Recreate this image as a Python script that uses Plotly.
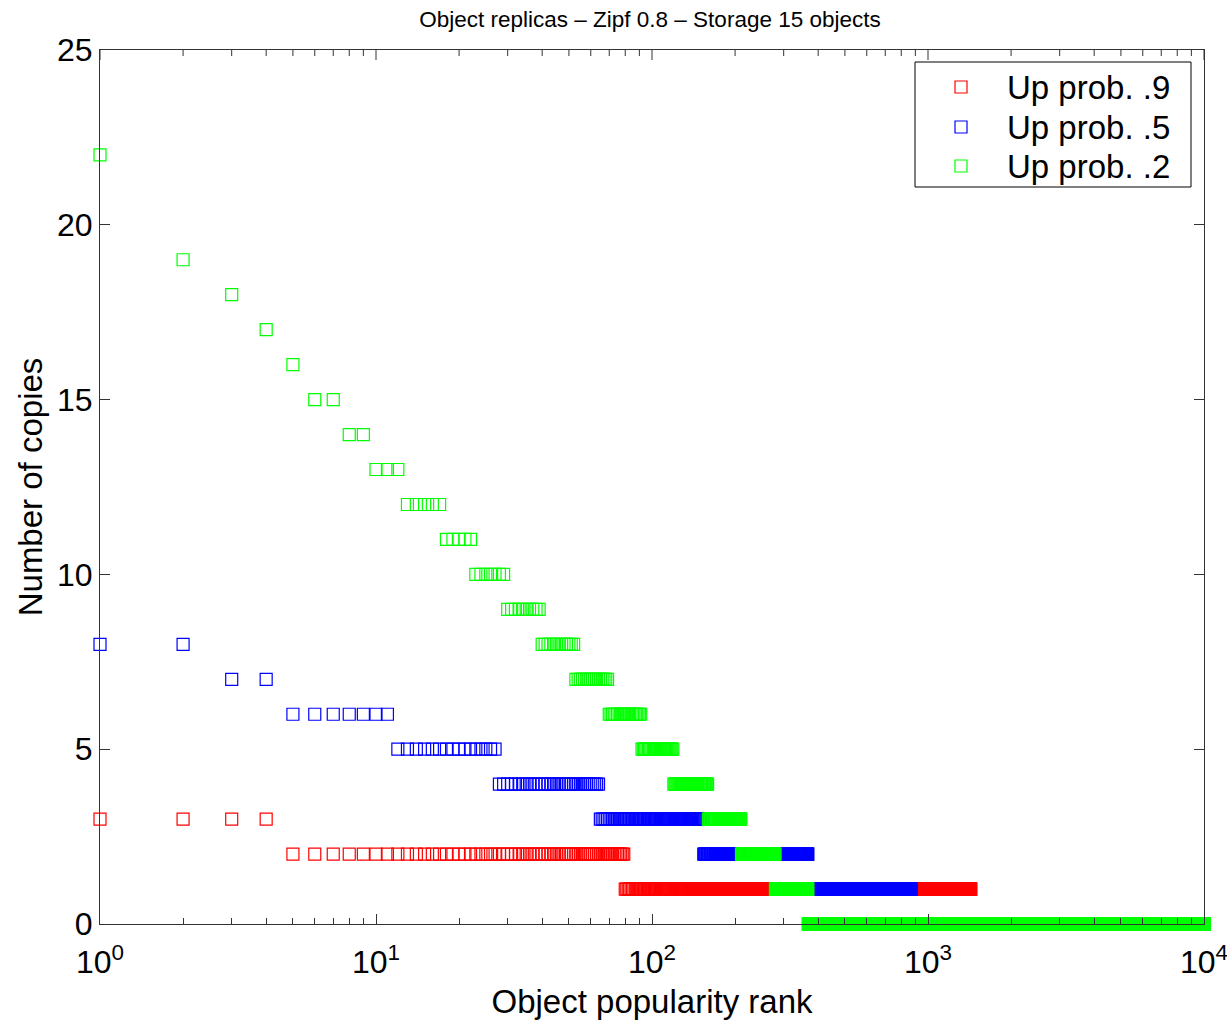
import numpy as np
import plotly.graph_objects as go

# Replica counts per object, stored as runs: each copy count applies from
# its first rank up to the rank before the next run starts.
N_OBJECTS = 10000

red_copies = [3, 2, 1, 0]
red_first_rank = [1, 5, 80, 1429]

blue_copies = [8, 7, 6, 5, 4, 3, 2, 1, 0]
blue_first_rank = [1, 3, 5, 12, 28, 65, 154, 368, 869]

green_copies = [22, 19, 18, 17, 16, 15, 14, 13, 12, 11, 10, 9, 8, 7, 6, 5, 4, 3, 2, 1, 0]
green_first_rank = [1, 2, 3, 4, 5, 6, 8, 10, 13, 18, 23, 30, 40, 53, 70, 92, 120, 160, 211, 280, 368]

series_names = ["Up prob. .9", "Up prob. .5", "Up prob. .2"]
series_colors = ["#ff0000", "#0000ff", "#00ff00"]

x_tick_vals = [1, 10, 100, 1000, 10000]
x_tick_text = ["10<sup>0</sup>", "10<sup>1</sup>", "10<sup>2</sup>", "10<sup>3</sup>", "10<sup>4</sup>"]
y_tick_vals = [0, 5, 10, 15, 20, 25]


def expand_runs(copies, first_rank, n_total):
    ranks, counts = [], []
    bounds = list(first_rank) + [n_total + 1]
    for c, start, stop in zip(copies, bounds[:-1], bounds[1:]):
        r = np.arange(start, stop)
        ranks.append(r)
        counts.append(np.full(r.size, c))
    return np.concatenate(ranks), np.concatenate(counts)


FONT = "Liberation Sans, Arial, Helvetica, sans-serif"
W, H = 1227, 1021
PLOT_L, PLOT_R, PLOT_T, PLOT_B = 100, 1204, 50, 924
X_LOG_RANGE = [0, 4]


def px_x(px):
    return (px - PLOT_L) / (PLOT_R - PLOT_L)


def px_y(py):
    return (PLOT_B - py) / (PLOT_B - PLOT_T)


fig = go.Figure()
for (copies, first), name, color in zip(
    [(red_copies, red_first_rank), (blue_copies, blue_first_rank), (green_copies, green_first_rank)],
    series_names,
    series_colors,
):
    x, y = expand_runs(copies, first, N_OBJECTS)
    fig.add_trace(
        go.Scatter(
            x=x,
            y=y,
            mode="markers",
            name=name,
            showlegend=False,
            cliponaxis=False,
            marker=dict(symbol="square-open", size=12, color=color, line=dict(width=1.2, color=color)),
        )
    )

# Minor log ticks at 2..9 within each decade
minor_vals = [k * 10 ** d for d in range(4) for k in range(2, 10)]
AX_COLOR = "#333333"
MAJOR_LEN, MINOR_LEN = 10, 6

fig.update_layout(
    xaxis=dict(
        type="log",
        range=X_LOG_RANGE,
        tickmode="array",
        tickvals=x_tick_vals,
        ticktext=x_tick_text,
        ticklabeloverflow="allow",
        ticklabelstandoff=10,
        showline=True,
        linecolor=AX_COLOR,
        linewidth=1,
        mirror=True,
        ticks="inside",
        ticklen=MAJOR_LEN,
        tickwidth=1,
        tickcolor=AX_COLOR,
        showgrid=False,
        zeroline=False,
        tickfont=dict(family=FONT, size=32, color="#000000"),
        minor=dict(tickmode="array", tickvals=minor_vals, ticks="inside", ticklen=MINOR_LEN,
                   tickwidth=1, tickcolor=AX_COLOR, showgrid=False),
        title=dict(text="Object popularity rank", font=dict(family=FONT, size=33, color="#000000"), standoff=10),
    ),
    yaxis=dict(
        range=[0, 25],
        tickmode="array",
        tickvals=y_tick_vals,
        showline=True,
        linecolor=AX_COLOR,
        linewidth=1,
        mirror="ticks",
        ticks="inside",
        ticklen=MAJOR_LEN,
        tickwidth=1,
        tickcolor=AX_COLOR,
        showgrid=False,
        zeroline=False,
        tickfont=dict(family=FONT, size=32, color="#000000"),
        title=dict(text="Number of copies", font=dict(family=FONT, size=33, color="#000000"), standoff=4),
    ),
    width=W,
    height=H,
    margin=dict(l=PLOT_L, r=W - PLOT_R, t=PLOT_T, b=H - PLOT_B, autoexpand=False),
    paper_bgcolor="#ffffff",
    plot_bgcolor="#ffffff",
    showlegend=False,
    title=dict(
        text="Object replicas \u2013 Zipf 0.8 \u2013 Storage 15 objects",
        font=dict(family=FONT, size=22.5, color="#000000"),
        x=650 / W,
        xanchor="center",
        y=1 - 19 / H,
        yanchor="middle",
    ),
)

# Tick marks along the top edge of the box (major and minor), pointing inward
span = X_LOG_RANGE[1] - X_LOG_RANGE[0]
for vals, length in ((x_tick_vals, MAJOR_LEN), (minor_vals, MINOR_LEN)):
    for v in vals:
        xp = (np.log10(v) - X_LOG_RANGE[0]) / span
        fig.add_shape(
            type="line", xref="paper", yref="paper",
            x0=xp, x1=xp, y0=1, y1=1 - length / (PLOT_B - PLOT_T),
            line=dict(color=AX_COLOR, width=1), layer="above",
        )

# Legend box with a key square and label per series
LEG_L, LEG_R, LEG_T, LEG_B = 915, 1191, 62, 187
legend_rows_py = [87, 127, 166]
KEY_X, KEY_HALF, TEXT_X = 961, 6, 1005

fig.add_shape(
    type="rect", xref="paper", yref="paper",
    x0=px_x(LEG_L), x1=px_x(LEG_R), y0=px_y(LEG_B), y1=px_y(LEG_T),
    line=dict(color="#000000", width=1), fillcolor="#ffffff", layer="above",
)
for name, color, py in zip(series_names, series_colors, legend_rows_py):
    fig.add_shape(
        type="rect", xref="paper", yref="paper",
        x0=px_x(KEY_X - KEY_HALF), x1=px_x(KEY_X + KEY_HALF),
        y0=px_y(py + KEY_HALF), y1=px_y(py - KEY_HALF),
        line=dict(color=color, width=1.2), fillcolor="rgba(0,0,0,0)", layer="above",
    )
    fig.add_annotation(
        xref="paper", yref="paper", x=px_x(TEXT_X), y=px_y(py),
        xanchor="left", yanchor="middle", showarrow=False,
        text=name, font=dict(family=FONT, size=33, color="#000000"),
    )

fig.write_html("out.html")
